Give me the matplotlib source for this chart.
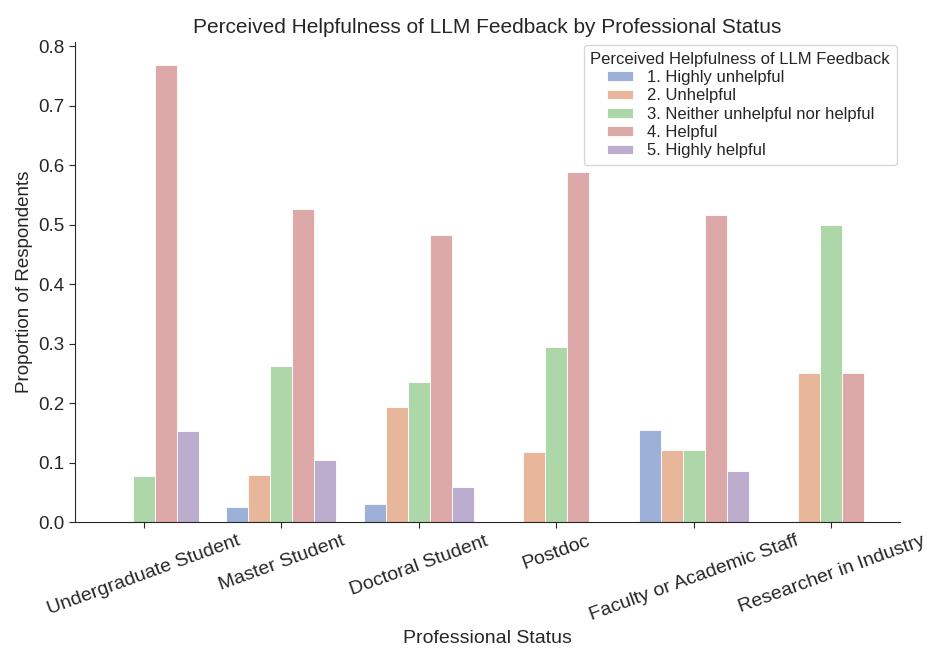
import numpy as np
import matplotlib
matplotlib.use('Agg')
import matplotlib.pyplot as plt
import seaborn as sns

# data
statuses = ['Undergraduate Student', 'Master Student', 'Doctoral Student',
            'Postdoc', 'Faculty or Academic Staff', 'Researcher in Industry']
levels = ['1. Highly unhelpful', '2. Unhelpful', '3. Neither unhelpful nor helpful',
          '4. Helpful', '5. Highly helpful']
highly_unhelpful = [np.nan, 0.026, 0.030, np.nan, 0.155, np.nan]
unhelpful = [np.nan, 0.079, 0.194, 0.118, 0.121, 0.25]
neither = [0.077, 0.263, 0.236, 0.294, 0.121, 0.50]
helpful = [0.769, 0.526, 0.482, 0.588, 0.517, 0.25]
highly_helpful = [0.154, 0.105, 0.060, np.nan, 0.086, np.nan]
series = [highly_unhelpful, unhelpful, neither, helpful, highly_helpful]

sns.set_style('ticks')
plt.rcParams['font.family'] = ['Liberation Sans', 'DejaVu Sans']
# washed-out seaborn 'deep'-like colours as they appear in the chart
colors = ['#9cb0d8', '#e8b79b', '#add7a8', '#dca8a8', '#bcaccd']

fig, ax = plt.subplots(figsize=(9.27, 6.52), dpi=100)
fig.subplots_adjust(left=0.081, right=0.971, bottom=0.199, top=0.936)

x = np.arange(len(statuses))
w = 0.8 / len(levels)
for i, (lab, vals) in enumerate(zip(levels, series)):
    vals = np.array(vals, dtype=float)
    ok = ~np.isnan(vals)
    ax.bar(x[ok] + (i - 2) * w, vals[ok], width=w, color=colors[i],
           edgecolor='white', linewidth=0.6, label=lab)

ax.set_xlim(-0.5, len(statuses) - 0.5)
ax.set_xticks(x)
ax.set_xticklabels(statuses, rotation=20, ha='center', fontsize=14)
ax.tick_params(axis='y', labelsize=13.5)
ax.tick_params(axis='both', length=4)
ax.set_xlabel('Professional Status', fontsize=14)
ax.set_ylabel('Proportion of Respondents', fontsize=13.5)
ax.set_title('Perceived Helpfulness of LLM Feedback by Professional Status', fontsize=15)
ax.legend(title='Perceived Helpfulness of LLM Feedback', loc='upper right',
          fontsize=12, title_fontsize=12, labelspacing=0.2, handlelength=1.6,
          handleheight=0.5, borderaxespad=0.2)
sns.despine(ax=ax)

fig.savefig('out.png', dpi=100)
